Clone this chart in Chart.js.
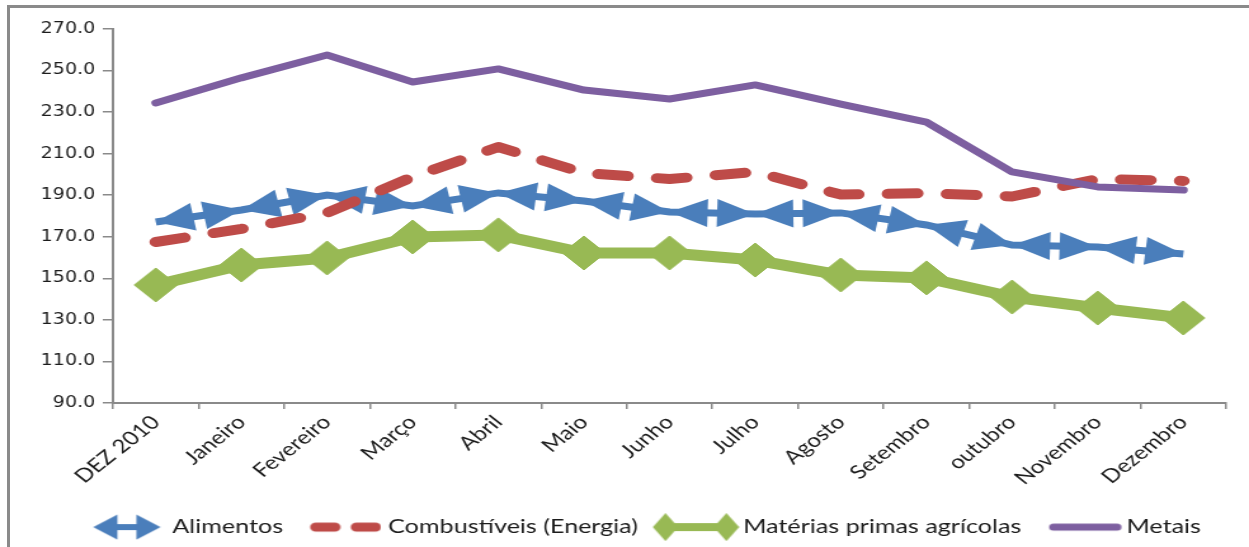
<!DOCTYPE html>
<html>
<head>
<meta charset="utf-8">
<script src="https://cdn.jsdelivr.net/npm/chart.js@4/dist/chart.umd.min.js"></script>
<style>
  html, body { margin: 0; padding: 0; background: #fff; overflow: hidden; }
  body { width: 1249px; height: 547px; position: relative; }
  #frame {
    position: absolute; left: 7px; top: 5px; width: 1400px; height: 700px;
    border-left: 3px solid #8a8a8a; border-top: 3px solid #8a8a8a;
  }
  #wrap {
    position: absolute; left: 0; top: 0; width: 984px; height: 547px;
    transform: scaleX(1.26931); transform-origin: 0 0;
  }
</style>
</head>
<body>
<div id="frame"></div>
<div id="wrap"><canvas id="c" width="984" height="547"></canvas></div>
<script>
// Índices mensais de preços de commodities, dez/2010 a dez/2011
const categories = ['DEZ 2010', 'Janeiro', 'Fevereiro', 'Março', 'Abril', 'Maio', 'Junho',
                    'Julho', 'Agosto', 'Setembro', 'outubro', 'Novembro', 'Dezembro'];
const alimentos    = [177.1, 182.9, 190.1, 184.8, 191.1, 187.2, 181.9, 181.0, 181.5, 175.7, 166.0, 165.1, 161.7];
const combustiveis = [167.5, 173.8, 181.5, 198.8, 213.2, 200.7, 197.8, 201.2, 190.3, 191.0, 189.4, 197.8, 196.9];
const materias     = [146.8, 156.4, 159.8, 169.9, 170.9, 162.2, 162.2, 158.8, 151.6, 150.2, 141.0, 135.7, 130.9];
const metais       = [234.4, 246.5, 257.5, 244.5, 250.8, 240.6, 236.3, 243.1, 233.9, 225.2, 201.2, 194.0, 192.5];
const yTicks = { min: 90, max: 270, step: 20 };

const BLUE = '#4A7EBB', RED = '#BE4B48', GREEN = '#98B954', PURPLE = '#7D5FA0';
const TEXT = '#1c1c1c', AXIS = '#8a8a8a';

const labelFont = { family: 'Lato', size: 19.8 };
const LEGEND_BOX = 61;
const LEGEND_PAD = 12;
const X_AXIS_HEIGHT = 102.2;

// filled triangular head whose tip sits at (tx, ty), pointing away from (fx, fy)
function drawHead(ctx, fx, fy, tx, ty, len, half) {
  const a = Math.atan2(ty - fy, tx - fx);
  const c = Math.cos(a), s = Math.sin(a);
  const bx = tx - len * c, by = ty - len * s;
  ctx.beginPath();
  ctx.moveTo(tx, ty);
  ctx.lineTo(bx + half * s, by - half * c);
  ctx.lineTo(bx - half * s, by + half * c);
  ctx.closePath();
  ctx.fill();
}

// arrowheads at both ends of every segment of a line dataset
const segmentArrows = {
  id: 'segmentArrows',
  afterDatasetDraw(chart, args) {
    const ds = chart.data.datasets[args.index];
    if (!ds.arrowHeads) return;
    const pts = args.meta.data;
    const ctx = chart.ctx;
    ctx.save();
    ctx.fillStyle = ds.borderColor;
    for (let i = 0; i < pts.length - 1; i++) {
      const p = pts[i], q = pts[i + 1];
      drawHead(ctx, q.x, q.y, p.x, p.y, ds.arrowHeads.len, ds.arrowHeads.half);
      drawHead(ctx, p.x, p.y, q.x, q.y, ds.arrowHeads.len, ds.arrowHeads.half);
    }
    ctx.restore();
  }
};

// the legend row sits centred under the plot area rather than the whole canvas
const legendUnderPlot = {
  id: 'legendUnderPlot',
  afterLayout(chart) {
    if (chart.legend) chart.legend.left += 42;
  }
};

// legend symbol: content of width cw ends `gap` px before the label text
function symbol(cw, h, gap, paint) {
  const toText = labelFont.size / 2 + LEGEND_BOX / 2;
  const half = Math.max(cw + gap - toText, toText - gap);
  const cv = document.createElement('canvas');
  cv.width = Math.ceil(2 * half); cv.height = h;
  const g = cv.getContext('2d');
  g.translate(half + toText - gap - cw, 0);
  paint(g, cw, h);
  return cv;
}
const legendSymbols = [
  symbol(54, 26, 8.6, (g, w, h) => {
    g.fillStyle = BLUE; g.strokeStyle = BLUE; g.lineWidth = 6;
    g.beginPath(); g.moveTo(10, h / 2); g.lineTo(w - 10, h / 2); g.stroke();
    drawHead(g, w / 2, h / 2, 0.5, h / 2, 19, 12.5);
    drawHead(g, w / 2, h / 2, w - 0.5, h / 2, 19, 12.5);
  }),
  symbol(56, 12, 5.5, (g, w, h) => {
    g.strokeStyle = RED; g.lineWidth = 9; g.lineCap = 'round';
    g.beginPath(); g.moveTo(4.5, h / 2); g.lineTo(19.5, h / 2);
    g.moveTo(36.5, h / 2); g.lineTo(51.5, h / 2); g.stroke();
  }),
  symbol(68, 28, 3.1, (g, w, h) => {
    g.strokeStyle = GREEN; g.fillStyle = GREEN; g.lineWidth = 8;
    g.beginPath(); g.moveTo(9, h / 2); g.lineTo(w - 9, h / 2); g.stroke();
    [10, w - 10].forEach(cx => {
      g.beginPath(); g.moveTo(cx, 0); g.lineTo(cx + 10, h / 2); g.lineTo(cx, h); g.lineTo(cx - 10, h / 2);
      g.closePath(); g.fill();
    });
  }),
  symbol(58, 10, 3.2, (g, w, h) => {
    g.strokeStyle = PURPLE; g.lineWidth = 7; g.lineCap = 'round';
    g.beginPath(); g.moveTo(4, h / 2); g.lineTo(w - 4, h / 2); g.stroke();
  })
];

new Chart(document.getElementById('c'), {
  type: 'line',
  data: {
    labels: categories,
    datasets: [
      {
        label: 'Alimentos', data: alimentos, order: 4,
        borderColor: BLUE, backgroundColor: BLUE, borderWidth: 7,
        pointRadius: 0, tension: 0, arrowHeads: { len: 30, half: 14 }
      },
      {
        label: 'Combustíveis (Energia)', data: combustiveis, order: 3,
        borderColor: RED, backgroundColor: RED, borderWidth: 10,
        borderDash: [23, 23.5], borderCapStyle: 'round', borderJoinStyle: 'round',
        pointRadius: 0, tension: 0
      },
      {
        label: 'Matérias primas agrícolas', data: materias, order: 2,
        borderColor: GREEN, backgroundColor: GREEN, borderWidth: 11,
        borderJoinStyle: 'round',
        pointStyle: 'rectRot', pointRadius: 17, pointBorderWidth: 1,
        pointBackgroundColor: GREEN, pointBorderColor: GREEN, tension: 0
      },
      {
        label: 'Metais', data: metais, order: 1,
        borderColor: PURPLE, backgroundColor: PURPLE, borderWidth: 7,
        borderCapStyle: 'round', borderJoinStyle: 'round',
        pointRadius: 0, tension: 0
      }
    ]
  },
  options: {
    responsive: false,
    animation: false,
    events: [],
    layout: { padding: { left: 0, right: 15, top: 29, bottom: 0 } },
    plugins: {
      title: { display: false },
      tooltip: { enabled: false },
      legend: {
        display: true,
        position: 'bottom',
        labels: {
          usePointStyle: true,
          pointStyleWidth: LEGEND_BOX,
          padding: LEGEND_PAD,
          color: TEXT,
          font: labelFont,
          sort: (a, b) => a.datasetIndex - b.datasetIndex,
          generateLabels(chart) {
            const items = Chart.defaults.plugins.legend.labels.generateLabels(chart);
            items.forEach(it => { it.pointStyle = legendSymbols[it.datasetIndex]; });
            return items;
          }
        }
      }
    },
    scales: {
      x: {
        type: 'category',
        offset: true,
        grid: { offset: true, drawOnChartArea: false, drawTicks: true, tickLength: 6, color: AXIS, lineWidth: 1.5 },
        border: { display: true, color: AXIS, width: 2 },
        ticks: { autoSkip: false, minRotation: 45, maxRotation: 45, padding: 2, color: TEXT, font: { family: 'Lato', size: 19 } },
        afterFit(scale) { scale.height = X_AXIS_HEIGHT; }
      },
      y: {
        min: yTicks.min,
        max: yTicks.max,
        grid: { drawOnChartArea: false, drawTicks: true, tickLength: 8, color: AXIS, lineWidth: 1.5 },
        border: { display: true, color: AXIS, width: 2 },
        ticks: {
          stepSize: yTicks.step,
          padding: 6,
          color: TEXT,
          font: { family: 'DejaVu Sans', size: 15 },
          callback: v => Number(v).toFixed(1)
        },
        afterFit(scale) { scale.width = 89; }
      }
    }
  },
  plugins: [segmentArrows, legendUnderPlot]
});
</script>
</body>
</html>
